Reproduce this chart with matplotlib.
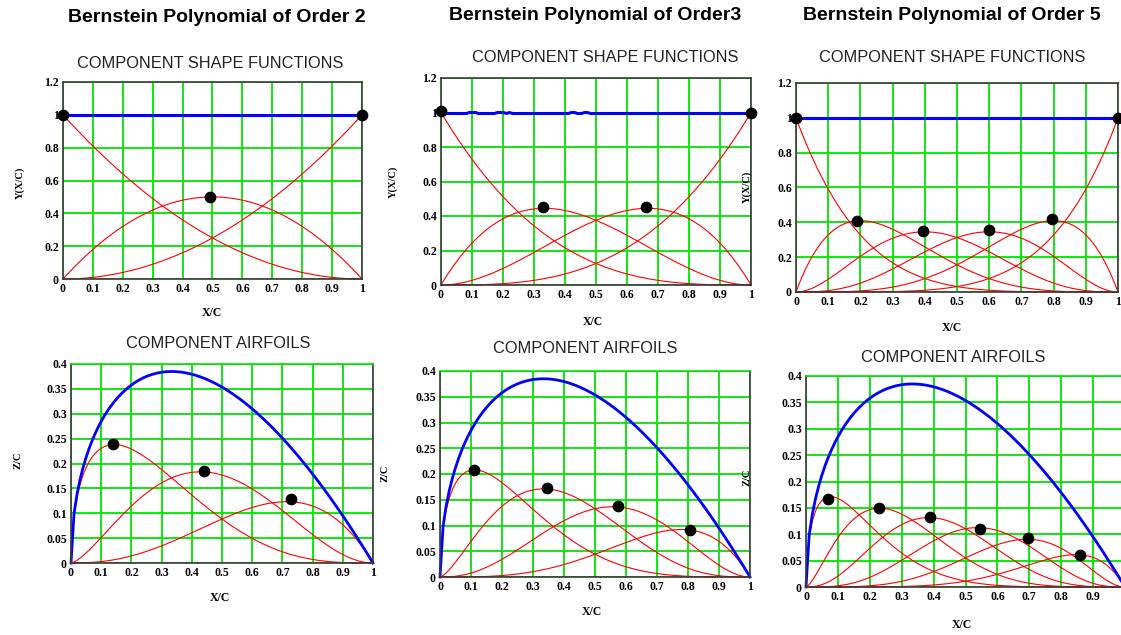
import numpy as np
import matplotlib
matplotlib.use("Agg")
import matplotlib.pyplot as plt
from math import comb

W, H = 1121, 635

orders = [2, 3, 5]
titles = ["Bernstein Polynomial of Order 2",
          "Bernstein Polynomial of Order3",
          "Bernstein Polynomial of Order 5"]

# peak markers on the shape functions
shape_dot_x = [[0, 0.49, 1],
               [0, 0.33, 0.66, 1],
               [0, 0.19, 0.395, 0.60, 0.795, 1]]
shape_dot_y = [[1.0, 0.50, 1.0],
               [1.01, 0.45, 0.45, 1.0],
               [1.0, 0.41, 0.35, 0.355, 0.42, 1.0]]

# peak markers on the component airfoils
foil_dot_x = [[0.14, 0.44, 0.73],
              [0.11, 0.345, 0.575, 0.805],
              [0.07, 0.23, 0.39, 0.545, 0.695, 0.86]]
foil_dot_y = [[0.240, 0.185, 0.128],
              [0.207, 0.172, 0.137, 0.091],
              [0.167, 0.149, 0.133, 0.110, 0.092, 0.061]]

x_ticks = [0, 0.1, 0.2, 0.3, 0.4, 0.5, 0.6, 0.7, 0.8, 0.9, 1]
x_tick_labels = ["0", "0.1", "0.2", "0.3", "0.4", "0.5", "0.6", "0.7", "0.8", "0.9", "1"]
shape_y_ticks = [0, 0.2, 0.4, 0.6, 0.8, 1.0, 1.2]
shape_y_labels = ["0", "0.2", "0.4", "0.6", "0.8", "1", "1.2"]
foil_y_ticks = [0, 0.05, 0.1, 0.15, 0.2, 0.25, 0.3, 0.35, 0.4]
foil_y_labels = ["0", "0.05", "0.1", "0.15", "0.2", "0.25", "0.3", "0.35", "0.4"]

# layout in pixels: (left, top, right, bottom)
shape_boxes = [(63, 82, 362, 279), (441, 78, 751, 285), (796, 83, 1118, 292)]
foil_boxes = [(71, 364, 373, 563), (440, 371, 750, 577), (806, 376, 1125, 587)]
title_pos = [(217, 17), (595, 15), (952, 15)]
shape_sub_pos = [(210, 63), (605, 58), (952, 57)]
foil_sub_pos = [(218, 344), (585, 348), (953, 357)]
shape_ylab_pos = [(20, 183), (393, 182), (747, 187)]
foil_ylab_pos = [(18, 460), (385, 473), (747, 477)]
shape_xlab_pos = [(212, 313), (593, 322), (952, 328)]
foil_xlab_pos = [(220, 598), (592, 612), (962, 625)]

GREEN = "#00e400"
FRAME = "#3a3a3a"
SERIF = "Liberation Serif"
SANS = "Liberation Sans"

fig = plt.figure(figsize=(W / 100, H / 100), dpi=100)
fig.patch.set_facecolor("white")


def px_axes(box):
    l, t, r, b = box
    return fig.add_axes([l / W, 1 - b / H, (r - l) / W, (b - t) / H])


def ftext(pos, s, **kw):
    fig.text(pos[0] / W, 1 - pos[1] / H, s, ha="center", va="center", **kw)


def style(ax, yticks, ylabels, ymax, top_green, xlabels):
    ax.set_xlim(0, 1)
    ax.set_ylim(0, ymax)
    ax.set_xticks(x_ticks)
    ax.set_xticklabels(xlabels)
    ax.set_yticks(yticks)
    ax.set_yticklabels(ylabels)
    ax.tick_params(length=0, pad=3)
    for lab in ax.get_xticklabels() + ax.get_yticklabels():
        lab.set_fontfamily(SERIF)
        lab.set_fontweight("bold")
        lab.set_fontsize(8.5)
    ax.grid(True, color=GREEN, lw=1.3)
    ax.set_axisbelow(True)
    for name, sp in ax.spines.items():
        sp.set_color(FRAME)
        sp.set_linewidth(1.2)
    if top_green:
        ax.spines["top"].set_color(GREEN)


x = np.linspace(0, 1, 101)
for k, n in enumerate(orders):
    basis = [comb(n, i) * x ** i * (1 - x) ** (n - i) for i in range(n + 1)]
    cls = np.sqrt(x) * (1 - x)

    # shape functions
    ax = px_axes(shape_boxes[k])
    style(ax, shape_y_ticks, shape_y_labels, 1.2, False, x_tick_labels)
    for b in basis:
        ax.plot(x, b, color="red", lw=0.8, clip_on=False)
    ax.plot(x, np.sum(basis, axis=0), color="#0000ff", lw=2.2, clip_on=False)
    ax.scatter(shape_dot_x[k], shape_dot_y[k], s=55, color="black", zorder=5, clip_on=False)

    # component airfoils; the last panel runs off the right edge, so no "1"
    xl = x_tick_labels if k < 2 else x_tick_labels[:-1] + [""]
    ax2 = px_axes(foil_boxes[k])
    style(ax2, foil_y_ticks, foil_y_labels, 0.4, True, xl)
    for b in basis:
        ax2.plot(x, cls * b, color="red", lw=0.8, clip_on=False)
    ax2.plot(x, cls * np.sum(basis, axis=0), color="#0000ff", lw=2.0, clip_on=False)
    ax2.scatter(foil_dot_x[k], foil_dot_y[k], s=55, color="black", zorder=5, clip_on=False)

    ftext(title_pos[k], titles[k], family=SANS, fontweight="bold", fontsize=14)
    ftext(shape_sub_pos[k], "COMPONENT SHAPE FUNCTIONS", family=SANS, fontsize=11.8, color="#222222")
    ftext(foil_sub_pos[k], "COMPONENT AIRFOILS", family=SANS, fontsize=11.8, color="#222222")
    ftext(shape_ylab_pos[k], "Y(X/C)", family=SERIF, fontweight="bold", fontsize=7.5, rotation=90)
    ftext(foil_ylab_pos[k], "Z/C", family=SERIF, fontweight="bold", fontsize=7.5, rotation=90)
    ftext(shape_xlab_pos[k], "X/C", family=SERIF, fontweight="bold", fontsize=8.5)
    ftext(foil_xlab_pos[k], "X/C", family=SERIF, fontweight="bold", fontsize=8.5)

fig.savefig("out.png", dpi=100)
